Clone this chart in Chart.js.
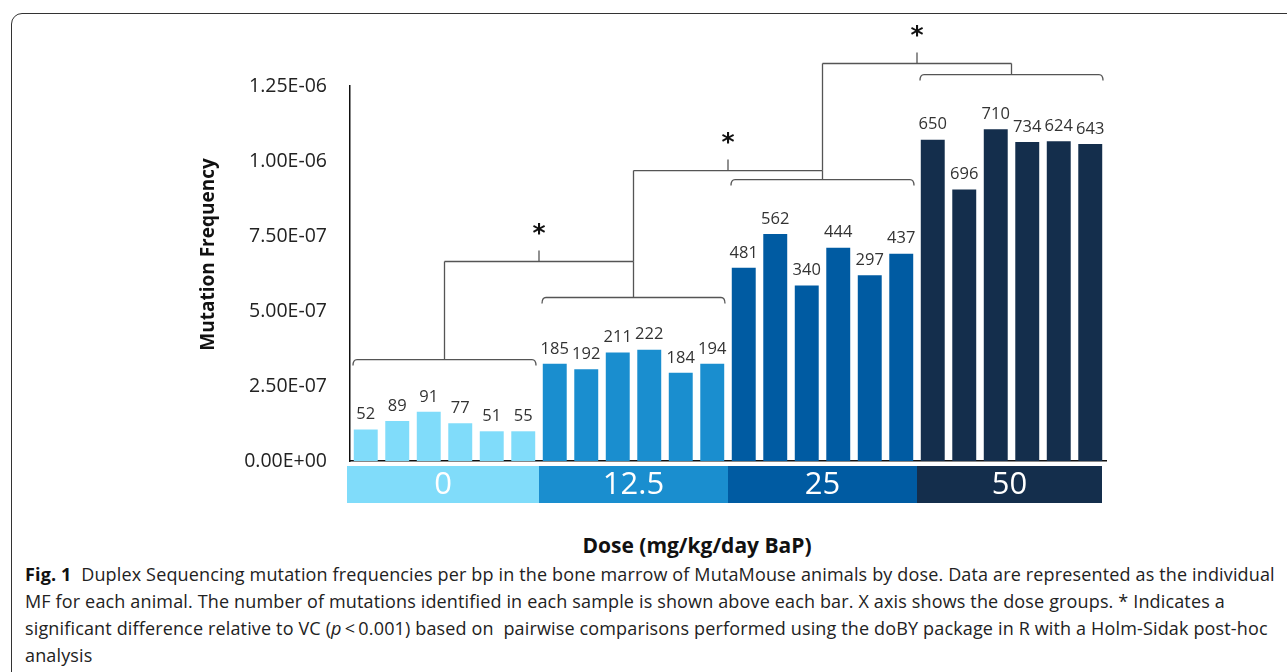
<!DOCTYPE html>
<html>
<head>
<meta charset="utf-8">
<script src="https://cdn.jsdelivr.net/npm/chart.js@4.4.1/dist/chart.umd.min.js"></script>
<style>
  body { margin: 0; background: #fff; width: 1287px; height: 672px; overflow: hidden; position: relative; font-family: "Open Sans", sans-serif; }
  #frame { position: absolute; left: 11px; top: 13px; width: 1320px; height: 720px; border: 1.5px solid #333; border-radius: 11px; box-sizing: border-box; }
  #wrap { position: absolute; left: 0; top: 0; width: 1287px; height: 520px; }
  #xtitle { position: absolute; left: 447px; width: 500px; top: 531px; text-align: center; font-weight: bold; font-size: 21px; color: #111; }
  #caption { position: absolute; left: 25px; top: 561px; font-size: 18px; letter-spacing: 0.15px; line-height: 27px; color: #222; white-space: nowrap; }
  #caption b { color: #111; }
</style>
</head>
<body>
<div id="frame"></div>
<div id="wrap"><canvas id="mfChart"></canvas></div>
<div id="xtitle">Dose (mg/kg/day BaP)</div>
<div id="caption"><b>Fig. 1</b>&nbsp; Duplex Sequencing mutation frequencies per bp in the bone marrow of MutaMouse animals by dose. Data are represented as the individual<br>MF for each animal. The number of mutations identified in each sample is shown above each bar. X axis shows the dose groups. * Indicates a<br>significant difference relative to VC (<i>p</i>&thinsp;&lt;&thinsp;0.001) based on&nbsp; pairwise comparisons performed using the doBY package in R with a Holm-Sidak post-hoc<br>analysis</div>
<script>
// dose groups (mg/kg/day BaP), 6 animals each
const doseGroups = ['0', '12.5', '25', '50'];
const animalsPerGroup = 6;
const groupColors = ['#80dcfa', '#1a8ecf', '#005ba2', '#142e4c'];

// mutation frequency per bp for each animal
const mutationFreq = [
  1.05e-7, 1.33e-7, 1.64e-7, 1.26e-7, 0.99e-7, 0.99e-7,
  3.24e-7, 3.06e-7, 3.62e-7, 3.71e-7, 2.94e-7, 3.24e-7,
  6.44e-7, 7.57e-7, 5.85e-7, 7.11e-7, 6.19e-7, 6.91e-7,
  1.071e-6, 9.05e-7, 1.106e-6, 1.063e-6, 1.066e-6, 1.057e-6
];
// number of mutations per animal (printed above the bars)
const mutationCounts = [
  52, 89, 91, 77, 51, 55,
  185, 192, 211, 222, 184, 194,
  481, 562, 340, 444, 297, 437,
  650, 696, 710, 734, 624, 643
];

const yTicks = [0, 2.5e-7, 5e-7, 7.5e-7, 1e-6, 1.25e-6];
const yTickLabels = ['0.00E+00', '2.50E-07', '5.00E-07', '7.50E-07', '1.00E-06', '1.25E-06'];

// significance brackets, levels on the y scale
const groupBracketLevels = [3.38e-7, 5.45e-7, 9.38e-7, 1.288e-6];
const comparisonLevels = [6.65e-7, 9.68e-7, 1.325e-6];

const animalLabels = mutationFreq.map((v, i) =>
  doseGroups[Math.floor(i / animalsPerGroup)] + ' #' + (i % animalsPerGroup + 1));
const barColors = mutationFreq.map((v, i) => groupColors[Math.floor(i / animalsPerGroup)]);

const overlayPlugin = {
  id: 'overlay',
  afterDraw(chart) {
    const { ctx, chartArea, scales: { x, y } } = chart;
    const bars = chart.getDatasetMeta(0).data;
    const half = (x.getPixelForValue(1) - x.getPixelForValue(0)) / 2;
    const groupLeft = g => x.getPixelForValue(g * animalsPerGroup) - half;
    const groupRight = g => x.getPixelForValue(g * animalsPerGroup + animalsPerGroup - 1) + half;
    const groupCenter = g => (groupLeft(g) + groupRight(g)) / 2;

    ctx.save();
    // counts above bars
    ctx.font = '16.5px "Open Sans"';
    ctx.fillStyle = '#333';
    ctx.textAlign = 'center';
    ctx.textBaseline = 'middle';
    bars.forEach((b, i) => ctx.fillText(String(mutationCounts[i]), b.x, b.y - 15));

    // dose band under the x axis
    doseGroups.forEach((d, g) => {
      const l = g === 0 ? groupLeft(g) - 3 : groupLeft(g);
      const r = g === doseGroups.length - 1 ? groupRight(g) - 4 : groupRight(g);
      ctx.fillStyle = groupColors[g];
      ctx.fillRect(l, chartArea.bottom + 5, r - l, 37);
      ctx.fillStyle = '#fff';
      ctx.font = '31px "Open Sans"';
      ctx.fillText(d, (l + r) / 2, chartArea.bottom + 24);
    });

    // brackets
    ctx.strokeStyle = '#555';
    ctx.lineWidth = 1.3;
    const line = (x1, y1, x2, y2) => { ctx.beginPath(); ctx.moveTo(x1, y1); ctx.lineTo(x2, y2); ctx.stroke(); };
    groupBracketLevels.forEach((lv, g) => {
      const py = y.getPixelForValue(lv);
      const l = groupLeft(g) + 3, r = groupRight(g) - 3;
      ctx.beginPath();
      ctx.moveTo(l, py + 6);
      ctx.quadraticCurveTo(l, py, l + 4, py);
      ctx.lineTo(r - 4, py);
      ctx.quadraticCurveTo(r, py, r, py + 6);
      ctx.stroke();
    });
    comparisonLevels.forEach((lv, k) => {
      const py = y.getPixelForValue(lv);
      const xl = groupCenter(k), xr = groupCenter(k + 1);
      const leftBottom = k === 0 ? y.getPixelForValue(groupBracketLevels[0]) : y.getPixelForValue(comparisonLevels[k - 1]);
      const rightBottom = y.getPixelForValue(groupBracketLevels[k + 1]);
      line(xl, py, xr, py);
      line(xl, py, xl, leftBottom);
      line(xr, py, xr, rightBottom);
      const xm = (xl + xr) / 2;
      line(xm, py, xm, py - 11);
      ctx.fillStyle = '#111';
      ctx.font = 'bold 25px "DejaVu Sans"';
      ctx.fillText('*', xm, py - 27);
    });

    // y axis title
    ctx.translate(chartArea.left - 141, (chartArea.top + chartArea.bottom) / 2 - 19);
    ctx.rotate(-Math.PI / 2);
    ctx.fillStyle = '#111';
    ctx.font = 'bold 19px "Open Sans"';
    ctx.fillText('Mutation Frequency', 0, 0);
    ctx.restore();
  }
};

new Chart(document.getElementById('mfChart').getContext('2d'), {
  type: 'bar',
  data: {
    labels: animalLabels,
    datasets: [{
      data: mutationFreq,
      backgroundColor: barColors,
      borderWidth: 0,
      categoryPercentage: 1,
      barPercentage: 0.76
    }]
  },
  options: {
    responsive: true,
    maintainAspectRatio: false,
    animation: false,
    layout: { padding: { top: 86, right: 181, bottom: 0, left: 0 } },
    plugins: { legend: { display: false }, tooltip: { enabled: false } },
    scales: {
      x: {
        grid: { display: false, drawTicks: false },
        border: { display: true, color: '#111', width: 1.5 },
        ticks: { display: false },
        afterFit: s => { s.height = 59; }
      },
      y: {
        min: 0,
        max: 1.25e-6,
        grid: { display: false, drawTicks: false },
        border: { display: true, color: '#111', width: 1.5 },
        afterBuildTicks: s => { s.ticks = yTicks.map(v => ({ value: v })); },
        ticks: {
          padding: 23,
          color: '#222',
          font: { family: 'Open Sans', size: 19.5 },
          callback: (v, i) => yTickLabels[i]
        },
        afterFit: s => { s.width = 350; }
      }
    }
  },
  plugins: [overlayPlugin]
});
</script>
</body>
</html>
